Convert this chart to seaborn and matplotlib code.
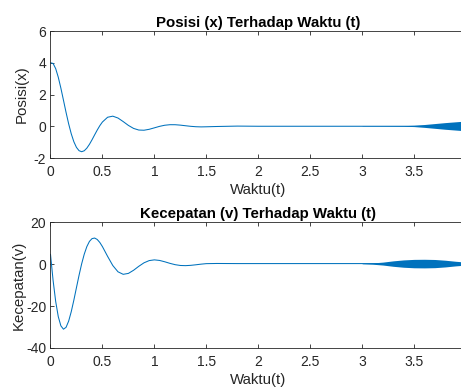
import matplotlib
matplotlib.use("Agg")
import matplotlib.pyplot as plt
import seaborn as sns
import numpy as np

# ---- data ----
t_vals = [0.0, 0.025, 0.05, 0.075, 0.1, 0.125, 0.15, 0.175, 0.2, 0.225, 0.25, 0.275,
          0.3, 0.325, 0.35, 0.375, 0.4, 0.425, 0.45, 0.475, 0.5,
          0.55, 0.6, 0.65, 0.7, 0.75, 0.8, 0.85, 0.9, 0.95, 1.0, 1.05, 1.1, 1.15,
          1.2, 1.25, 1.3, 1.35, 1.4, 1.45, 1.5, 1.6, 1.8, 2.0, 2.5, 3.0, 3.5, 4.0]
posisi = [4.0, 3.957, 3.632, 3.090, 2.403, 1.642, 0.872, 0.151, -0.475, -0.975, -1.331, -1.538,
          -1.603, -1.543, -1.378, -1.138, -0.851, -0.542, -0.240, 0.037, 0.268,
          0.568, 0.636, 0.518, 0.295, 0.054, -0.136, -0.238, -0.250, -0.192, -0.100, -0.006, 0.064, 0.098,
          0.097, 0.071, 0.033, -0.004, -0.029, -0.040, -0.033, -0.015, 0.01, 0.0, 0.0, 0.0, 0.0, 0.0]
kecepatan = [4.64, -7.76, -17.79, -25.06, -29.44, -31.04, -30.15, -27.19, -22.69, -17.21, -11.26, -5.38,
             0.05, 4.67, 8.28, 10.76, 12.09, 12.36, 11.68, 10.25, 8.29,
             3.63, -0.73, -3.72, -4.91, -4.48, -2.98, -1.10, 0.56, 1.62, 1.97, 1.70, 1.06, 0.31,
             -0.32, -0.70, -0.78, -0.64, -0.37, -0.07, 0.17, 0.25, 0.2, 0.2, 0.2, 0.2, 0.2, 0.2]

# envelope of the growing high-frequency oscillation at the end
band_t_x = [3.0, 3.2, 3.4, 3.5, 3.6, 3.7, 3.8, 3.9, 4.0]
band_amp_x = [0.01, 0.012, 0.02, 0.04, 0.09, 0.15, 0.21, 0.26, 0.31]
band_t_v = [3.0, 3.1, 3.2, 3.3, 3.4, 3.5, 3.6, 3.7, 3.8, 3.9, 4.0]
band_amp_v = [0.1, 0.3, 0.7, 1.3, 1.75, 2.0, 2.05, 1.95, 1.6, 1.1, 0.7]

x_ticks = [0, 0.5, 1, 1.5, 2, 2.5, 3, 3.5, 4]
x_tick_labels = ["0", "0.5", "1", "1.5", "2", "2.5", "3", "3.5", ""]
y_ticks_top = [-2, 0, 2, 4, 6]
y_ticks_bot = [-40, -20, 0, 20]

sns.set_style("ticks")
plt.rcParams['font.family'] = ['Liberation Sans', 'DejaVu Sans']
plt.rcParams['xtick.direction'] = 'in'
plt.rcParams['ytick.direction'] = 'in'

line_color = "#0072BD"
txt = "#262626"

fig = plt.figure(figsize=(4.61, 3.89), dpi=100)
ax1 = fig.add_axes([0.1095, 0.5938, 0.9013, 0.3265])
ax2 = fig.add_axes([0.1095, 0.1054, 0.9013, 0.3239])

def style(ax, yt, title, ylabel, ylim, ylabelpad):
    ax.set_xlim(0, 4)
    ax.set_ylim(*ylim)
    ax.set_xticks(x_ticks)
    ax.set_xticklabels(x_tick_labels)
    ax.set_yticks(yt)
    ax.set_yticklabels([str(v) for v in yt])
    ax.tick_params(axis='both', which='both', direction='in', length=3, width=0.6,
                   colors=txt, labelsize=10, top=True, right=True)
    ax.tick_params(axis='x', pad=5)
    ax.tick_params(axis='y', pad=3)
    for s in ax.spines.values():
        s.set_visible(True)
        s.set_color(txt)
        s.set_linewidth(0.6)
    ax.set_title(title, fontsize=10.8, fontweight='bold', color='black', pad=3)
    ax.set_xlabel("Waktu(t)", fontsize=10.8, color=txt, labelpad=3)
    ax.set_ylabel(ylabel, fontsize=10.8, color=txt, labelpad=ylabelpad)

sns.lineplot(x=t_vals, y=posisi, ax=ax1, color=line_color, linewidth=0.75)
bx = np.array(band_t_x); ba = np.array(band_amp_x)
ax1.fill_between(bx, 0.02 - ba, 0.02 + ba, color=line_color, linewidth=0)
style(ax1, y_ticks_top, "Posisi (x) Terhadap Waktu (t)", "Posisi(x)", (-2, 6), 4)

sns.lineplot(x=t_vals, y=kecepatan, ax=ax2, color=line_color, linewidth=0.75)
bvt = np.array(band_t_v); bva = np.array(band_amp_v)
ax2.fill_between(bvt, 0.2 - bva, 0.2 + bva, color=line_color, linewidth=0)
style(ax2, y_ticks_bot, "Kecepatan (v) Terhadap Waktu (t)", "Kecepatan(v)", (-40, 20), 0)

fig.savefig("out.png", dpi=100)
